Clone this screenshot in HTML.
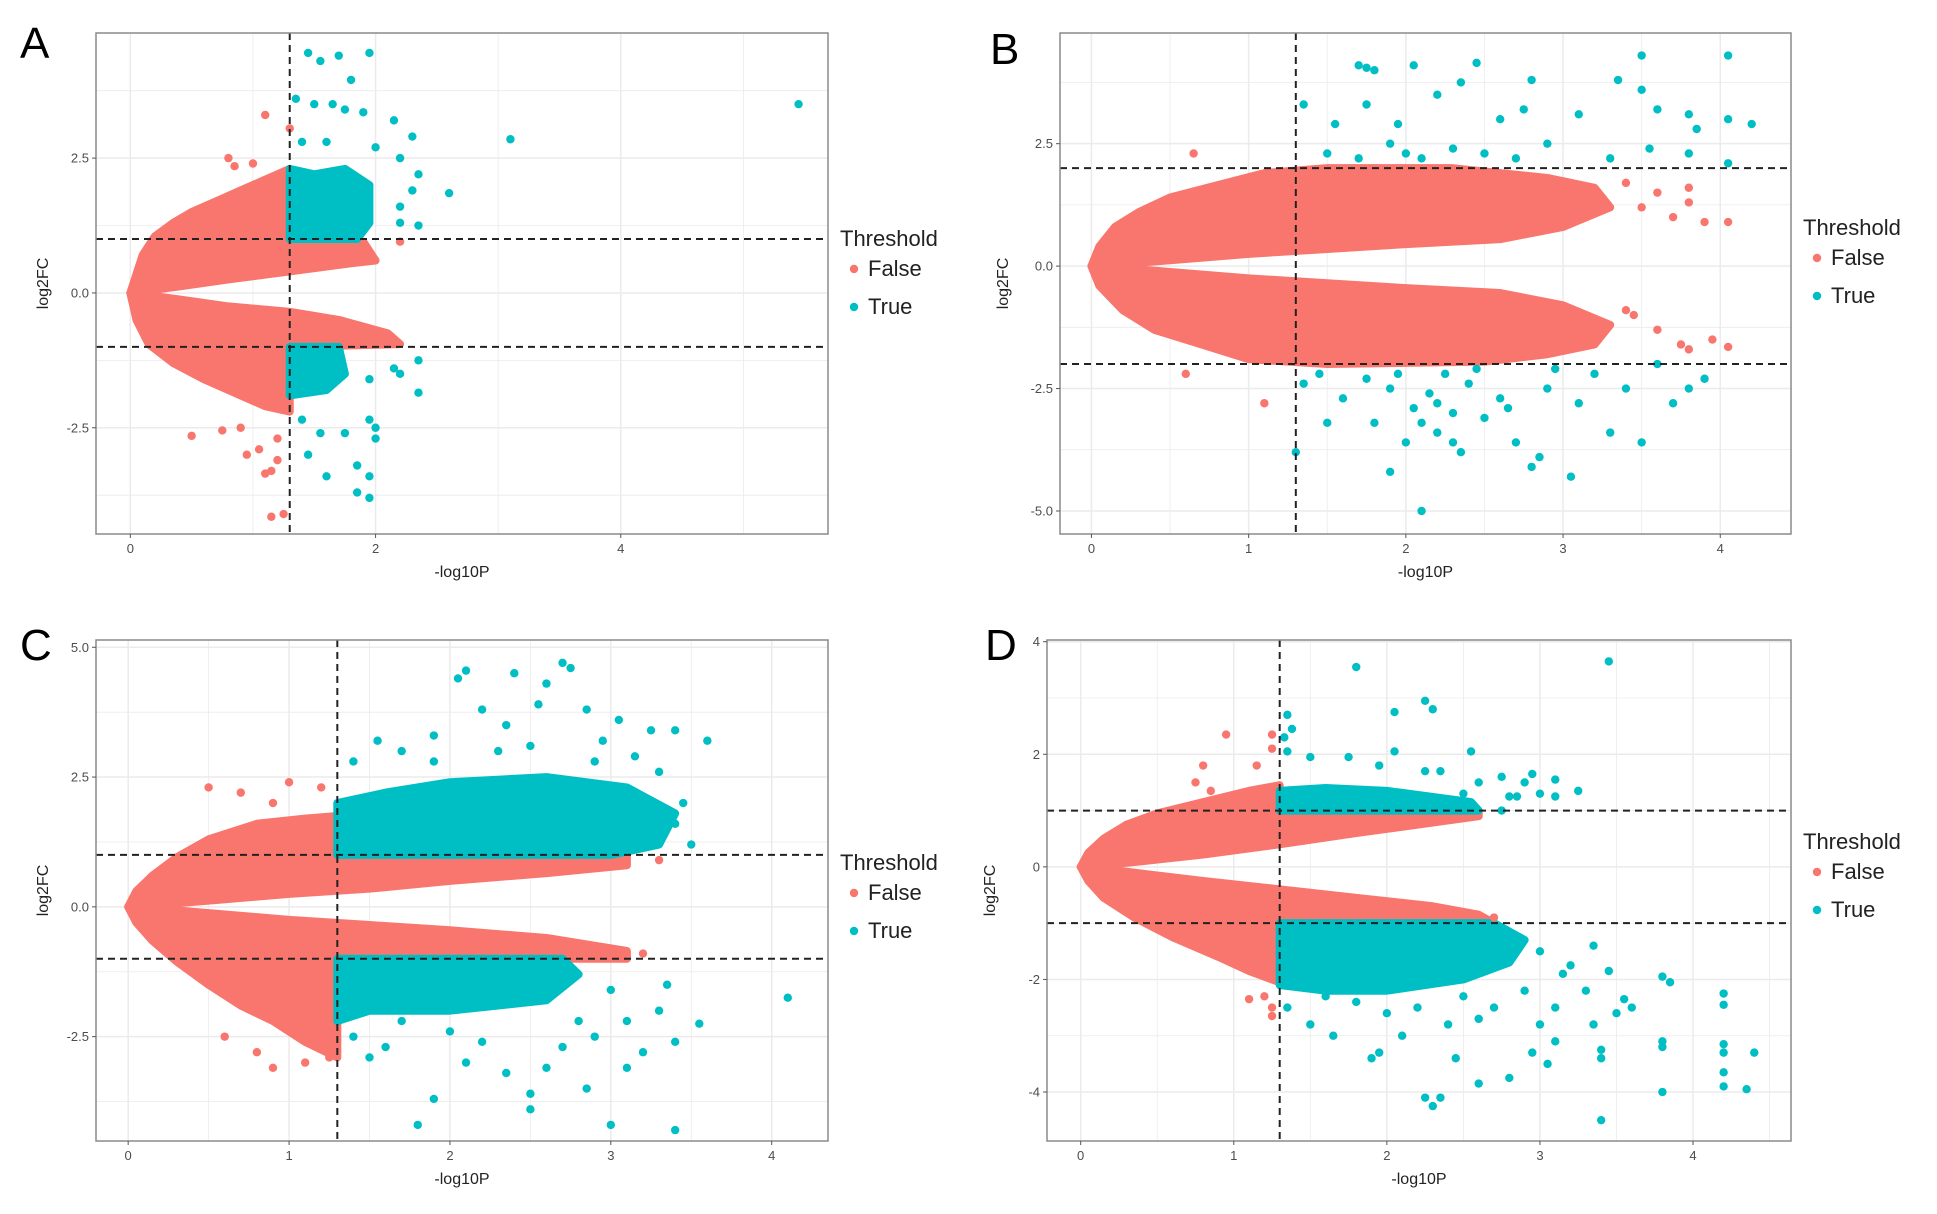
<!DOCTYPE html>
<html><head><meta charset="utf-8"><style>
html,body{margin:0;padding:0;background:#fff;}
svg{display:block;font-family:"Liberation Sans",sans-serif;}
</style></head><body>
<svg id="fig" width="1937" height="1214" viewBox="0 0 1937 1214"></svg>
<script>
// ---------- Panel A data ----------
const aRedPolys=[[[0,0],[0.05,0.35],[0.1,0.7],[0.2,1.05],[0.35,1.3],[0.5,1.5],[0.7,1.7],[0.9,1.9],[1.1,2.1],[1.3,2.3],[1.3,1],[1.6,1],[1.9,0.95],[2.0,0.6],[1.8,0.55],[1.3,0.4],[0.8,0.25],[0.4,0.12],[0.1,0.03]],
[[0,0],[0.1,-0.03],[0.4,-0.12],[0.8,-0.25],[1.3,-0.35],[1.7,-0.5],[2.1,-0.75],[2.2,-0.95],[1.3,-1],[1.3,-2.2],[1.1,-2.1],[0.9,-1.9],[0.6,-1.6],[0.35,-1.3],[0.15,-0.95],[0.05,-0.5]]];
const aTealPolys=[[[1.3,1],[1.85,1],[1.95,1.3],[1.95,2.0],[1.75,2.3],[1.5,2.2],[1.3,2.3]],[[1.3,-1],[1.7,-1],[1.75,-1.5],[1.6,-1.8],[1.3,-1.9]]];
const aRedPts=[[1.1,3.3],[1.3,3.05],[0.8,2.5],[0.85,2.35],[1.0,2.4],[0.5,-2.65],[1.1,-3.35],[1.15,-3.3],[1.2,-3.1],[1.15,-4.15],[1.25,-4.1],[1.05,-2.9],[0.75,-2.55],[0.9,-2.5],[2.2,0.95],[1.55,0.55],[0.95,-3.0],[1.2,-2.7]];
const aTealPts=[[1.45,4.45],[1.55,4.3],[1.7,4.4],[1.95,4.45],[1.8,3.95],[1.35,3.6],[1.5,3.5],[1.65,3.5],[1.75,3.4],[1.9,3.35],[2.15,3.2],[2.3,2.9],[1.4,2.8],[1.6,2.8],[2.0,2.7],[2.2,2.5],[2.35,2.2],[2.6,1.85],[2.3,1.9],[2.2,1.6],[2.2,1.3],[2.35,1.25],[3.1,2.85],[5.45,3.5],[2.35,-1.25],[2.15,-1.4],[2.2,-1.5],[1.95,-1.6],[2.35,-1.85],[1.4,-2.35],[1.55,-2.6],[1.75,-2.6],[1.95,-2.35],[2.0,-2.5],[2.0,-2.7],[1.45,-3.0],[1.6,-3.4],[1.85,-3.2],[1.95,-3.4],[1.85,-3.7],[1.95,-3.8]];
const aXTicks=[0,2,4], aYTicks=[2.5,0,-2.5], aYLabels=["2.5","0.0","-2.5"];
// ---------- Panel B data ----------
const bRedPolys=[[[0,0],[0.05,0.4],[0.15,0.8],[0.3,1.1],[0.5,1.4],[0.8,1.65],[1.1,1.9],[1.5,2.0],[2.3,2.0],[2.6,1.9],[2.9,1.8],[3.2,1.6],[3.3,1.2],[3.0,0.8],[2.6,0.55],[2.0,0.45],[1.5,0.35],[1.0,0.25],[0.5,0.12],[0.15,0.03]],
[[0,0],[0.15,-0.03],[0.5,-0.12],[1.0,-0.25],[1.5,-0.35],[2.0,-0.45],[2.6,-0.55],[3.0,-0.8],[3.3,-1.2],[3.2,-1.6],[2.9,-1.8],[2.5,-1.95],[1.5,-2.0],[1.0,-1.9],[0.7,-1.6],[0.4,-1.3],[0.2,-0.9],[0.05,-0.4]]];
const bTealPolys=[];
const bRedPts=[[3.5,1.2],[3.6,1.5],[3.8,1.6],[3.9,0.9],[4.05,0.9],[3.7,1.0],[3.45,-1.0],[3.6,-1.3],[3.8,-1.7],[3.95,-1.5],[4.05,-1.65],[3.75,-1.6],[3.4,1.7],[3.8,1.3],[0.65,2.3],[1.1,-2.8],[0.6,-2.2],[3.4,-0.9]];
const bTealPts=[[1.35,3.3],[1.55,2.9],[1.7,4.1],[1.75,4.05],[1.8,4.0],[1.75,3.3],[1.95,2.9],[2.05,4.1],[2.2,3.5],[2.35,3.75],[2.45,4.15],[2.6,3.0],[2.75,3.2],[2.8,3.8],[3.1,3.1],[3.35,3.8],[3.5,4.3],[3.5,3.6],[3.6,3.2],[3.8,3.1],[3.85,2.8],[4.05,4.3],[4.05,3.0],[4.05,2.1],[4.2,2.9],[1.5,2.3],[1.7,2.2],[1.9,2.5],[2.1,2.2],[2.3,2.4],[2.5,2.3],[2.7,2.2],[2.9,2.5],[3.3,2.2],[3.55,2.4],[3.8,2.3],[2.0,2.3],[1.35,-2.4],[1.45,-2.2],[1.6,-2.7],[1.75,-2.3],[1.8,-3.2],[1.9,-2.5],[2.0,-3.6],[2.05,-2.9],[2.1,-3.2],[2.15,-2.6],[2.2,-3.4],[2.25,-2.2],[2.3,-3.0],[2.35,-3.8],[2.4,-2.4],[2.5,-3.1],[2.6,-2.7],[2.7,-3.6],[2.8,-4.1],[2.85,-3.9],[3.05,-4.3],[2.9,-2.5],[3.1,-2.8],[3.3,-3.4],[3.5,-3.6],[3.4,-2.5],[3.7,-2.8],[3.9,-2.3],[3.8,-2.5],[1.5,-3.2],[1.3,-3.8],[1.9,-4.2],[2.1,-5.0],[2.3,-3.6],[2.45,-2.1],[2.65,-2.9],[1.95,-2.2],[2.2,-2.8],[2.95,-2.1],[3.2,-2.2],[3.6,-2.0]];
const bXTicks=[0,1,2,3,4], bYTicks=[2.5,0,-2.5,-5], bYLabels=["2.5","0.0","-2.5","-5.0"];
// ---------- Panel C data ----------
const cRedPolys=[[[0,0],[0.05,0.3],[0.15,0.6],[0.3,0.95],[0.5,1.3],[0.8,1.6],[1.1,1.7],[1.3,1.75],[1.3,1.0],[3.1,1.0],[3.1,0.8],[2.6,0.65],[2.0,0.5],[1.5,0.35],[1.0,0.25],[0.5,0.12],[0.15,0.03]],
[[0,0],[0.15,-0.03],[0.5,-0.12],[1.0,-0.25],[1.5,-0.35],[2.0,-0.45],[2.6,-0.6],[3.1,-0.85],[3.1,-1.0],[1.3,-1.0],[1.3,-2.9],[1.1,-2.6],[0.9,-2.2],[0.7,-1.9],[0.5,-1.5],[0.3,-1.05],[0.15,-0.65],[0.05,-0.3]]];
const cTealPolys=[[[1.3,1.0],[3.0,1.0],[3.3,1.2],[3.4,1.8],[3.1,2.3],[2.6,2.5],[2.0,2.4],[1.6,2.2],[1.3,2.0]],[[1.3,-1.0],[2.7,-1.0],[2.8,-1.3],[2.6,-1.8],[2.0,-2.0],[1.5,-2.0],[1.3,-2.2]]];
const cRedPts=[[0.5,2.3],[0.7,2.2],[1.0,2.4],[1.2,2.3],[0.9,2.0],[1.1,-3.0],[0.9,-3.1],[1.25,-2.9],[0.8,-2.8],[0.6,-2.5],[3.2,-0.9],[3.3,0.9],[2.9,-0.85]];
const cTealPts=[[1.55,3.2],[1.4,2.8],[1.7,3.0],[1.9,3.3],[2.05,4.4],[2.1,4.55],[2.2,3.8],[2.35,3.5],[2.4,4.5],[2.55,3.9],[2.6,4.3],[2.7,4.7],[2.75,4.6],[2.85,3.8],[2.95,3.2],[3.05,3.6],[3.25,3.4],[3.4,3.4],[3.6,3.2],[3.3,2.6],[3.45,2.0],[3.15,2.9],[2.9,2.8],[2.5,3.1],[2.3,3.0],[1.9,2.8],[3.4,1.6],[3.5,1.2],[4.1,-1.75],[3.55,-2.25],[3.4,-2.6],[3.3,-2.0],[3.1,-2.2],[3.0,-1.6],[2.9,-2.5],[2.8,-2.2],[2.7,-2.7],[2.6,-3.1],[2.5,-3.6],[2.5,-3.9],[2.35,-3.2],[2.2,-2.6],[2.1,-3.0],[1.9,-3.7],[1.8,-4.2],[1.5,-2.9],[1.4,-2.5],[1.6,-2.7],[1.7,-2.2],[2.0,-2.4],[3.0,-4.2],[3.4,-4.3],[3.1,-3.1],[2.85,-3.5],[3.35,-1.5],[3.2,-2.8]];
const cXTicks=[0,1,2,3,4], cYTicks=[5,2.5,0,-2.5], cYLabels=["5.0","2.5","0.0","-2.5"];
// ---------- Panel D data ----------
const dRedPolys=[[[0,0],[0.05,0.25],[0.15,0.5],[0.3,0.75],[0.5,0.95],[0.8,1.15],[1.1,1.35],[1.3,1.45],[1.3,1.0],[2.6,1.0],[2.6,0.9],[2.2,0.75],[1.8,0.6],[1.3,0.4],[0.8,0.22],[0.4,0.1],[0.1,0.02]],
[[0,0],[0.1,-0.02],[0.4,-0.12],[0.8,-0.25],[1.3,-0.4],[1.8,-0.55],[2.3,-0.7],[2.6,-0.85],[2.7,-1.0],[1.3,-1.0],[1.3,-2.05],[1.1,-1.85],[0.9,-1.6],[0.6,-1.25],[0.35,-0.9],[0.15,-0.55],[0.05,-0.25]]];
const dTealPolys=[[[1.3,1.0],[2.6,1.0],[2.55,1.15],[2.0,1.35],[1.6,1.4],[1.3,1.35]],[[1.3,-1.0],[2.7,-1.0],[2.9,-1.3],[2.8,-1.7],[2.5,-2.0],[2.0,-2.2],[1.6,-2.2],[1.3,-2.1]]];
const dRedPts=[[0.95,2.35],[1.25,2.35],[1.25,2.1],[1.15,1.8],[0.8,1.8],[0.75,1.5],[0.85,1.35],[1.2,-2.3],[1.25,-2.5],[1.25,-2.65],[1.1,-2.35],[2.7,-0.9]];
const dTealPts=[[1.8,3.55],[3.45,3.65],[2.25,2.95],[2.3,2.8],[2.05,2.75],[1.35,2.7],[1.38,2.45],[1.33,2.3],[2.55,2.05],[2.05,2.05],[1.35,2.05],[1.5,1.95],[1.75,1.95],[1.95,1.8],[2.25,1.7],[2.35,1.7],[2.75,1.6],[2.95,1.65],[3.1,1.55],[3.25,1.35],[2.9,1.5],[3.0,1.3],[2.85,1.25],[2.75,1.0],[2.6,1.5],[2.5,1.3],[3.1,1.25],[2.8,1.25],[1.35,-2.5],[1.5,-2.8],[1.65,-3.0],[1.9,-3.4],[1.95,-3.3],[2.25,-4.1],[2.3,-4.25],[2.35,-4.1],[2.45,-3.4],[2.6,-3.85],[2.8,-3.75],[2.95,-3.3],[3.05,-3.5],[3.1,-3.1],[3.4,-3.25],[3.4,-3.4],[3.4,-4.5],[3.35,-2.8],[3.55,-2.35],[3.6,-2.5],[3.8,-1.95],[3.85,-2.05],[3.8,-3.1],[3.8,-3.2],[3.8,-4.0],[4.2,-2.25],[4.2,-2.45],[4.2,-3.15],[4.2,-3.3],[4.2,-3.65],[4.2,-3.9],[4.35,-3.95],[4.4,-3.3],[3.5,-2.6],[3.45,-1.85],[3.3,-2.2],[3.2,-1.75],[3.1,-2.5],[3.0,-2.8],[2.9,-2.2],[3.0,-1.5],[2.7,-2.5],[2.6,-2.7],[2.5,-2.3],[2.4,-2.8],[2.2,-2.5],[2.0,-2.6],[1.8,-2.4],[1.6,-2.3],[2.1,-3.0],[3.15,-1.9],[3.35,-1.4]];
const dXTicks=[0,1,2,3,4], dYTicks=[4,2,0,-2,-4], dYLabels=["4","2","0","-2","-4"];

const RED="#F8766D", TEAL="#00BFC4", NS="http://www.w3.org/2000/svg";
const svg=document.getElementById('fig');
function mk(tag,attrs,parent){const e=document.createElementNS(NS,tag);for(const k in attrs)e.setAttribute(k,attrs[k]);(parent||svg).appendChild(e);return e;}

const panels=[
 {id:'a',letter:'A',lx:20,ly:58,box:[96,33,828,534],dom:[-0.28,5.69,-4.47,4.82],hy:[1,-1],vx:1.3,xt:aXTicks,yt:aYTicks,yl:aYLabels,rp:aRedPolys,tp:aTealPolys,rpts:aRedPts,tpts:aTealPts,legX:840,legY:246},
 {id:'b',letter:'B',lx:990,ly:64,box:[1060,33,1791,534],dom:[-0.2,4.45,-5.47,4.76],hy:[2,-2],vx:1.3,xt:bXTicks,yt:bYTicks,yl:bYLabels,rp:bRedPolys,tp:bTealPolys,rpts:bRedPts,tpts:bTealPts,legX:1803,legY:235},
 {id:'c',letter:'C',lx:20,ly:660,box:[96,640,828,1141],dom:[-0.2,4.35,-4.51,5.14],hy:[1,-1],vx:1.3,xt:cXTicks,yt:cYTicks,yl:cYLabels,rp:cRedPolys,tp:cTealPolys,rpts:cRedPts,tpts:cTealPts,legX:840,legY:870},
 {id:'d',letter:'D',lx:985,ly:660,box:[1047,640,1791,1141],dom:[-0.22,4.64,-4.87,4.03],hy:[1,-1],vx:1.3,xt:dXTicks,yt:dYTicks,yl:dYLabels,rp:dRedPolys,tp:dTealPolys,rpts:dRedPts,tpts:dTealPts,legX:1803,legY:849}
];

panels.forEach(p=>{
 const [L,T,R,B]=p.box,[x0,x1,y0,y1]=p.dom;
 const sx=v=>L+(v-x0)/(x1-x0)*(R-L), sy=v=>B-(v-y0)/(y1-y0)*(B-T);
 const g=mk('g',{});
 
 
 const lt=mk('text',{x:p.lx,y:p.ly,'font-size':44,fill:'#000'},g);lt.textContent=p.letter;
 
 
 // grid
 const xs=p.xt, ys=p.yt, dx=xs[1]-xs[0], dy=ys[0]-ys[1];
 for(let v=xs[0]-dx/2;v<=x1;v+=dx/2){ if(v<x0)continue; const major=Math.abs((v-xs[0])/dx-Math.round((v-xs[0])/dx))<1e-6;
  const ln=mk('line',{x1:sx(v),x2:sx(v),y1:T,y2:B,stroke:'#ebebeb','stroke-width':major?1.5:0.8},g);
   }
 for(let v=ys[0]+dy/2;v>=y0;v-=dy/2){ if(v>y1)continue; const major=Math.abs((ys[0]-v)/dy-Math.round((ys[0]-v)/dy))<1e-6;
  const ln=mk('line',{x1:L,x2:R,y1:sy(v),y2:sy(v),stroke:'#ebebeb','stroke-width':major?1.5:0.8},g);
   }
 // dense regions
 const poly=(arr,col,nm)=>{const e=mk('polygon',{points:arr.map(q=>sx(q[0])+','+sy(q[1])).join(' '),fill:col,stroke:col,'stroke-width':8,'stroke-linejoin':'round'},g);
   };
 p.rp.forEach(a=>poly(a,RED,'false-dense-region'));
 p.tp.forEach(a=>poly(a,TEAL,'true-dense-region'));
 p.rpts.forEach(q=>{const c=mk('circle',{cx:sx(q[0]),cy:sy(q[1]),r:4.2,fill:RED},g);
   });
 p.tpts.forEach(q=>{const c=mk('circle',{cx:sx(q[0]),cy:sy(q[1]),r:4.2,fill:TEAL},g);
   });
 // thresholds
 p.hy.forEach(v=>{const l=mk('line',{x1:L,x2:R,y1:sy(v),y2:sy(v),stroke:'#222','stroke-width':2,'stroke-dasharray':'7,5'},g);
   });
 const vl=mk('line',{x1:sx(p.vx),x2:sx(p.vx),y1:T,y2:B,stroke:'#222','stroke-width':2,'stroke-dasharray':'7,5'},g);
  
 const bx=mk('rect',{x:L,y:T,width:R-L,height:B-T,fill:'none',stroke:'#8a8a8a','stroke-width':1.5},g);
  
 // ticks
 xs.forEach(v=>{mk('line',{x1:sx(v),x2:sx(v),y1:B,y2:B+4,stroke:'#555'},g);
  const t=mk('text',{x:sx(v),y:B+19,'font-size':13,fill:'#4d4d4d','text-anchor':'middle'},g);t.textContent=v;
   });
 ys.forEach((v,i)=>{mk('line',{x1:L-4,x2:L,y1:sy(v),y2:sy(v),stroke:'#555'},g);
  const t=mk('text',{x:L-7,y:sy(v)+4.5,'font-size':13,fill:'#4d4d4d','text-anchor':'end'},g);t.textContent=p.yl[i];
   });
 const xt=mk('text',{x:(L+R)/2,y:B+43,'font-size':16,fill:'#222','text-anchor':'middle'},g);xt.textContent='-log10P';
  
 const yx=L-(p.id==='a'||p.id==='c'?48:52), ym=(T+B)/2;
 const yt=mk('text',{x:yx,y:ym,'font-size':16,fill:'#222','text-anchor':'middle',transform:`rotate(-90 ${yx} ${ym})`},g);yt.textContent='log2FC';
  
 // legend
 const lg=mk('g',{},g);
  
 const th=mk('text',{x:p.legX,y:p.legY,'font-size':22,fill:'#222'},lg);th.textContent='Threshold';
  
 [['False',RED],['True',TEAL]].forEach((e,i)=>{const yy=p.legY+30+i*38;
  const c=mk('circle',{cx:p.legX+14,cy:yy-7,r:4.2,fill:e[1]},lg);
   
  const t=mk('text',{x:p.legX+28,y:yy,'font-size':22,fill:'#222'},lg);t.textContent=e[0];
   });
});
</script>
</body></html>
